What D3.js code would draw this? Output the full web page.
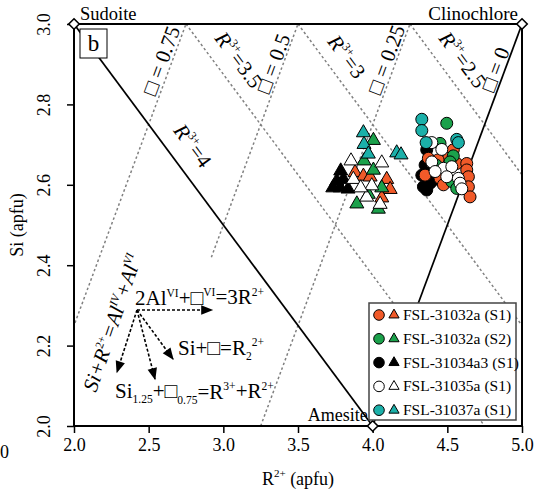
<!DOCTYPE html>
<html>
<head>
<meta charset="utf-8">
<script src="https://cdn.jsdelivr.net/npm/d3@7"></script>
<style>
  body { margin: 0; background: #fff; }
  svg, svg text { font-family: "Liberation Serif", "DejaVu Serif", serif !important; }
</style>
</head>
<body>
<svg id="chart" width="540" height="493"></svg>
<script>
// series colours / legend
var series = ["FSL-31032a (S1)", "FSL-31032a (S2)", "FSL-31034a3 (S1)", "FSL-31035a (S1)", "FSL-31037a (S1)"];
var colors = ["#f15a29", "#1ba14b", "#000000", "#ffffff", "#1bb0a9"];

// circles: [R2+, Si]
var circ_31032a_S1 = [[4.373,2.666],[4.507,2.666],[4.540,2.687],[4.563,2.653],[4.630,2.653],[4.630,2.637],[4.641,2.620],
  [4.641,2.595],[4.652,2.570],[4.351,2.624],[4.451,2.616],[4.474,2.600],[4.438,2.662]];
var circ_31032a_S2 = [[4.496,2.753],[4.451,2.703],[4.540,2.672],[4.518,2.657],[4.530,2.608],[4.563,2.591],[4.425,2.649]];
var circ_31034a3_S1 = [[4.362,2.687],[4.329,2.624],[4.340,2.595],[4.362,2.587],[4.385,2.604],[4.407,2.612],[4.351,2.649]];
var circ_31035a_S1 = [[4.396,2.705],[4.463,2.688],[4.396,2.657],[4.474,2.641],[4.530,2.645],[4.496,2.620],[4.574,2.616],
  [4.585,2.604],[4.597,2.590],[4.418,2.633]];
var circ_31037a_S1 = [[4.329,2.763],[4.329,2.735],[4.358,2.705],[4.563,2.713],[4.574,2.705]];

// triangles: [R2+, Si]
var tri_31032a_S1 = [[3.882,2.633],[3.938,2.624],[4.094,2.616],[4.117,2.591],[4.061,2.570],[3.983,2.622]];
var tri_31032a_S2 = [[4.005,2.713],[3.942,2.662],[4.005,2.639],[3.894,2.555],[4.038,2.542],[4.061,2.595],[3.971,2.579]];
var tri_31034a3_S1 = [[3.786,2.637],[3.760,2.612],[3.733,2.595],[3.804,2.616],[3.782,2.595],[3.835,2.592]];
var tri_31035a_S1 = [[3.855,2.662],[4.061,2.657],[3.871,2.616],[3.994,2.600],[4.050,2.554],[3.960,2.572],[3.920,2.595]];
var tri_31037a_S1 = [[3.938,2.732],[3.942,2.703],[3.971,2.679],[4.161,2.682],[4.190,2.677]];

var circles = [circ_31032a_S1, circ_31032a_S2, circ_31034a3_S1, circ_31035a_S1, circ_31037a_S1];
var triangles = [tri_31032a_S1, tri_31032a_S2, tri_31034a3_S1, tri_31035a_S1, tri_31037a_S1];
var drawOrder = [2, 0, 1, 3, 4];

var xTicks = [2.0, 2.5, 3.0, 3.5, 4.0, 4.5, 5.0];
var yTicks = [2.0, 2.2, 2.4, 2.6, 2.8, 3.0];

// vacancy lines: Si = R2+ - 2 + 3*v ; R3+ lines: R2+ + 2 Si = 14 - 1.5*r
var vacLines = [0.75, 0.5, 0.25];
var r3Lines = [3.5, 3, 2.5];
var endMembers = [{name: "Sudoite", r: 2, si: 3}, {name: "Clinochlore", r: 5, si: 3}, {name: "Amesite", r: 4, si: 2}];

var FONT = "Liberation Serif, DejaVu Serif, serif";
var svg = d3.select("#chart").attr("font-family", FONT);
var margin = {top: 24, left: 74, bottom: 67, right: 18},
    width = +svg.attr("width"),
    height = +svg.attr("height");

var x = d3.scaleLinear().domain([2, 5]).range([margin.left, width - margin.right]);
var y = d3.scaleLinear().domain([2, 3]).range([height - margin.bottom, margin.top]);

svg.append("defs").append("clipPath").attr("id", "plot")
  .append("rect").attr("x", x(2)).attr("y", y(3)).attr("width", x(5) - x(2)).attr("height", y(2) - y(3));

svg.append("defs").append("marker")
  .attr("id", "arrow").attr("viewBox", "0 0 10 10").attr("refX", 9).attr("refY", 5)
  .attr("orient", "auto-start-reverse")
  .attr("markerUnits", "userSpaceOnUse")
  .attr("markerWidth", 14).attr("markerHeight", 12)
  .append("path").attr("d", "M0,1 L10,5 L0,9 Z").attr("fill", "#000");

var plot = svg.append("g").attr("clip-path", "url(#plot)");

// dashed grid lines
vacLines.forEach(v => {
  plot.append("line")
    .attr("x1", x(2 + 2 - 3 * v)).attr("y1", y(2))
    .attr("x2", x(3 + 2 - 3 * v)).attr("y2", y(3))
    .attr("stroke", "#808080").attr("stroke-width", 1.5).attr("stroke-dasharray", "2.5,2.5");
});
r3Lines.forEach(r => {
  var c = 14 - 1.5 * r;
  plot.append("line")
    .attr("x1", x(c - 6)).attr("y1", y(3))
    .attr("x2", x(c - 4)).attr("y2", y(2))
    .attr("stroke", "#808080").attr("stroke-width", 1.5).attr("stroke-dasharray", "2.5,2.5");
});

// white panel behind the substitution annotations
plot.append("rect").attr("x", 100).attr("y", 258).attr("width", 158).attr("height", 168).attr("fill", "#fff");

// solid end-member lines
var em = d => [x(d.r), y(d.si)];
plot.append("line").attr("x1", em(endMembers[0])[0]).attr("y1", em(endMembers[0])[1])
  .attr("x2", em(endMembers[2])[0]).attr("y2", em(endMembers[2])[1]).attr("stroke", "#000").attr("stroke-width", 1.7);
plot.append("line").attr("x1", em(endMembers[1])[0]).attr("y1", em(endMembers[1])[1])
  .attr("x2", em(endMembers[2])[0]).attr("y2", em(endMembers[2])[1]).attr("stroke", "#000").attr("stroke-width", 1.7);

// rotated line labels
var angV = -Math.atan2(y(2) - y(3), x(3) - x(2)) * 180 / Math.PI;
var angR = Math.atan2(y(2) - y(3), x(4) - x(2)) * 180 / Math.PI;
function lineLabel(px, py, ang, parts) {
  var t = svg.append("text").attr("transform", `translate(${px},${py}) rotate(${ang})`)
    .attr("text-anchor", "middle").attr("font-size", 21);
  parts.forEach(p => {
    var s = t.append("tspan").text(p.t);
    if (p.sup) s.attr("font-size", 12).attr("dy", -9);
    if (p.down) s.attr("dy", 9);
    if (p.it) s.attr("font-style", "italic");
  });
}
var vLabels = [{px: 168, py: 63, v: "0.75"}, {px: 280, py: 66, v: "0.5"}, {px: 393, py: 62, v: "0.25"}, {px: 502, py: 72, v: "0"}];
vLabels.forEach(d => lineLabel(d.px, d.py, angV, [{t: "\u25A1 = " + d.v}]));
var rLabels = [{px: 187, py: 150, v: "4"}, {px: 233, py: 64, v: "3.5"}, {px: 341, py: 61, v: "3"}, {px: 457, py: 64, v: "2.5"}];
rLabels.forEach(d => lineLabel(d.px, d.py, angR, [{t: "R", it: true}, {t: "3+", sup: true}, {t: "=" + d.v, down: true}]));

// points
var sym = d3.symbol();
drawOrder.forEach(i => {
  plot.selectAll(null).data(triangles[i]).enter().append("path")
    .attr("transform", d => `translate(${x(d[0])},${y(d[1]) + 1})`)
    .attr("d", sym.type(d3.symbolTriangle).size(85)())
    .attr("fill", colors[i]).attr("stroke", "#000").attr("stroke-width", 1);
});
drawOrder.forEach(i => {
  plot.selectAll(null).data(circles[i]).enter().append("circle")
    .attr("cx", d => x(d[0])).attr("cy", d => y(d[1])).attr("r", 6)
    .attr("fill", colors[i]).attr("stroke", "#000").attr("stroke-width", 1);
});

// frame and axes
svg.append("rect").attr("x", x(2)).attr("y", y(3)).attr("width", x(5) - x(2)).attr("height", y(2) - y(3))
  .attr("fill", "none").attr("stroke", "#000").attr("stroke-width", 2);

var xAxis = svg.append("g").attr("transform", `translate(0,${y(2)})`)
  .call(d3.axisBottom(x).tickValues(xTicks).tickFormat(d3.format(".1f")).tickSize(7).tickSizeOuter(0));
var yAxis = svg.append("g").attr("transform", `translate(${x(2)},0)`)
  .call(d3.axisLeft(y).tickValues(yTicks).tickFormat(d3.format(".1f")).tickSize(7).tickSizeOuter(0));
[xAxis, yAxis].forEach(a => {
  a.attr("font-family", FONT);
  a.select(".domain").remove();
  a.selectAll(".tick line").attr("stroke", "#000").attr("stroke-width", 1.5);
  a.selectAll("text").attr("font-size", 18).attr("fill", "#000");
});
xAxis.selectAll("text").attr("y", 12);
yAxis.selectAll("text").attr("x", 0).attr("dy", 0).attr("y", 0)
  .attr("transform", "translate(-24,0) rotate(-90)").attr("text-anchor", "middle");
// fragment of the neighbouring panel's axis label
svg.append("text").attr("x", 0).attr("y", 458).attr("font-size", 18).text("0");

svg.append("text").attr("transform", "translate(23,225) rotate(-90)").attr("text-anchor", "middle")
  .attr("font-size", 18).text("Si (apfu)");
var xl = svg.append("text").attr("x", 298).attr("y", 485).attr("text-anchor", "middle").attr("font-size", 18);
xl.append("tspan").text("R");
xl.append("tspan").text("2+").attr("font-size", 11).attr("dy", -8);
xl.append("tspan").text(" (apfu)").attr("dy", 8);

// end members
svg.selectAll(".em").data(endMembers).enter().append("path")
  .attr("transform", d => `translate(${x(d.r)},${y(d.si)})`)
  .attr("d", sym.type(d3.symbolDiamond2).size(70)())
  .attr("fill", "#fff").attr("stroke", "#000").attr("stroke-width", 1.6);
svg.append("text").attr("x", x(2) + 6).attr("y", 20).attr("font-size", 18.5).text("Sudoite");
svg.append("text").attr("x", x(5) - 4).attr("y", 20).attr("text-anchor", "end").attr("font-size", 19).text("Clinochlore");
svg.append("text").attr("x", x(4) - 5).attr("y", 421).attr("text-anchor", "end").attr("font-size", 18).text("Amesite");

// panel letter
svg.append("rect").attr("x", 80).attr("y", 29).attr("width", 27).attr("height", 29)
  .attr("fill", "#fff").attr("stroke", "#000").attr("stroke-width", 1);
svg.append("text").attr("x", 93.5).attr("y", 51).attr("text-anchor", "middle").attr("font-size", 23).text("b");

// substitution vectors
var origin = [137, 310];
var arrowEnds = [[212, 310], [117, 372], [155, 379], [173, 359]];
arrowEnds.forEach(e => {
  svg.append("line").attr("x1", origin[0]).attr("y1", origin[1]).attr("x2", e[0]).attr("y2", e[1])
    .attr("stroke", "#000").attr("stroke-width", 1.6).attr("stroke-dasharray", "3,2")
    .attr("marker-end", "url(#arrow)");
});
function rich(px, py, parts, size, extra) {
  var t = svg.append("text").attr("x", px).attr("y", py).attr("font-size", size);
  if (extra) t.attr("transform", extra);
  parts.forEach(p => {
    var s = t.append("tspan").text(p.t);
    if (p.sup) s.attr("font-size", size * 0.55).attr("dy", -size * 0.4);
    if (p.sub) s.attr("font-size", size * 0.55).attr("dy", size * 0.25);
    if (p.back) s.attr("dy", p.back);
    if (p.it) s.attr("font-style", "italic");
  });
  return t;
}
rich(135, 305, [{t: "2Al"}, {t: "VI", sup: true}, {t: "+\u25A1", back: 8}, {t: "VI", sup: true}, {t: "=3R", back: 8}, {t: "2+", sup: true}], 21);
rich(178, 355, [{t: "Si+\u25A1=R"}, {t: "2", sub: true}, {t: "2+", sup: true, back: -14}], 21);
rich(115, 398, [{t: "Si"}, {t: "1.25", sub: true}, {t: "+\u25A1", back: -5}, {t: "0.75", sub: true}, {t: "=R", back: -5},
  {t: "3+", sup: true}, {t: "+R", back: 8}, {t: "2+", sup: true}], 21);
rich(0, 0, [{t: "Si+R", it: true}, {t: "2+", sup: true}, {t: "=Al", it: true, back: 8}, {t: "IV", sup: true, it: true},
  {t: "+Al", it: true, back: 8}, {t: "VI", sup: true, it: true}], 21, "translate(96,393) rotate(-71)");

// legend
var lg = svg.append("g");
lg.append("rect").attr("x", 369).attr("y", 303).attr("width", 147).attr("height", 117)
  .attr("fill", "#fff").attr("stroke", "#444").attr("stroke-width", 1.5);
series.forEach((s, i) => {
  var yy = 315 + i * 23.8;
  lg.append("circle").attr("cx", 379).attr("cy", yy).attr("r", 5.3)
    .attr("fill", colors[i]).attr("stroke", "#000").attr("stroke-width", 1);
  lg.append("path").attr("transform", `translate(394,${yy})`)
    .attr("d", sym.type(d3.symbolTriangle).size(45)())
    .attr("fill", colors[i]).attr("stroke", "#000").attr("stroke-width", 1);
  lg.append("text").attr("x", 403).attr("y", yy + 5).attr("font-size", 15.5).text(s);
});
</script>
</body>
</html>
